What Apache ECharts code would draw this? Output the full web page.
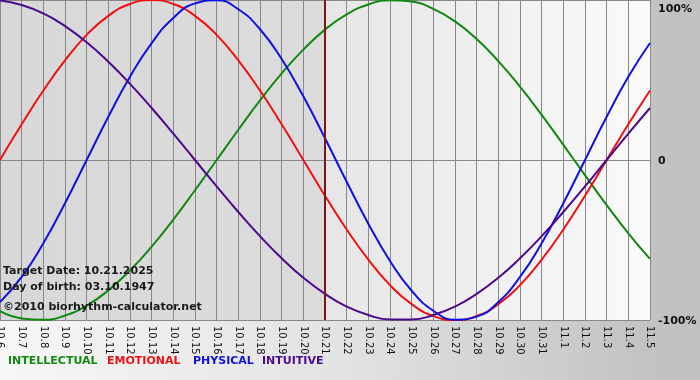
<!DOCTYPE html>
<html>
<head>
<meta charset="utf-8">
<script src="https://cdn.jsdelivr.net/npm/echarts@6/dist/echarts.min.js"></script>
<style>html,body{margin:0;padding:0;}#c{width:700px;height:380px;}</style>
</head>
<body>
<div id="c"></div>
<script>
var dates = ['10.6','10.7','10.8','10.9','10.10','10.11','10.12','10.13','10.14','10.15','10.16','10.17','10.18','10.19','10.20','10.21','10.22','10.23','10.24','10.25','10.26','10.27','10.28','10.29','10.30','10.31','11.1','11.2','11.3','11.4','11.5'];
var physical = [-0.888,-0.731,-0.520,-0.270,0,0.270,0.520,0.731,0.888,0.979,0.998,0.942,0.817,0.631,0.398,0.136,-0.136,-0.398,-0.631,-0.817,-0.942,-0.998,-0.979,-0.888,-0.731,-0.520,-0.270,0,0.270,0.520,0.731];
var emotional = [0,0.223,0.434,0.623,0.782,0.901,0.975,1,0.975,0.901,0.782,0.623,0.434,0.223,0,-0.223,-0.434,-0.623,-0.782,-0.901,-0.975,-1,-0.975,-0.901,-0.782,-0.623,-0.434,-0.223,0,0.223,0.434];
var intellectual = [-0.945,-0.990,-0.999,-0.972,-0.910,-0.815,-0.690,-0.541,-0.372,-0.189,0,0.189,0.372,0.541,0.690,0.815,0.910,0.972,0.999,0.990,0.945,0.866,0.756,0.618,0.458,0.282,0.095,-0.095,-0.282,-0.458,-0.618];
var intuitive = [0.997,0.969,0.916,0.837,0.736,0.614,0.476,0.325,0.165,0,-0.165,-0.325,-0.476,-0.614,-0.736,-0.837,-0.916,-0.969,-0.997,-0.997,-0.969,-0.916,-0.837,-0.736,-0.614,-0.476,-0.325,-0.165,0,0.165,0.325];
var yTicks = {'-1':'-100%','0':'0','1':'100%'};
var targetDate = '10.21';
var infoLines = ['Target Date: 10.21.2025','Day of birth: 03.10.1947','\u00a92010 biorhythm-calculator.net'];
var legendNames = ['INTELLECTUAL','EMOTIONAL','PHYSICAL','INTUITIVE'];

var colors = {green:'#118811', red:'#ee1111', blue:'#1111dd', purple:'#4b0a8c'};
var font = 'DejaVu Sans';
var chart = echarts.init(document.getElementById('c'));

function line(name, data, color, extra){
  var s = {name:name, type:'line', data:data, smooth:true, symbol:'none',
    lineStyle:{color:color, width:2}, itemStyle:{color:color}};
  if (extra) for (var k in extra) s[k] = extra[k];
  return s;
}

var legendX = [8, 107, 193, 262];
var legendColors = [colors.green, colors.red, colors.blue, colors.purple];
var graphics = [];
infoLines.forEach(function(t, i){
  graphics.push({type:'text', left:3, top:[266,282,302][i], z:100,
    style:{text:t, font:'bold 11px "' + font + '"', fill:'#1a1a1a'}});
});
legendNames.forEach(function(t, i){
  graphics.push({type:'text', left:legendX[i], top:356, z:100,
    style:{text:t, font:'bold 11px "' + font + '"', fill:legendColors[i]}});
});

chart.setOption({
  animation:false,
  backgroundColor: new echarts.graphic.LinearGradient(0,0,1,0,[
    {offset:0, color:'#f7f7f7'},{offset:0.5, color:'#e2e2e2'},{offset:0.92, color:'#c3c3c3'},{offset:1, color:'#c0c0c0'}]),
  grid:{left:0, right:50, top:0, bottom:60, show:true, borderWidth:0, outerBoundsMode:'none', containLabel:false,
    backgroundColor: new echarts.graphic.LinearGradient(0,0,1,0,[
      {offset:0, color:'#d8d8d8'},{offset:0.5, color:'#dcdcdc'},
      {offset:0.5, color:'#e6e6e6'},{offset:1, color:'#fafafa'}])},
  xAxis:{type:'category', data:dates, boundaryGap:false,
    axisLine:{show:true, lineStyle:{color:'#888888', width:1}},
    axisTick:{show:true, length:4, lineStyle:{color:'#888888'}},
    splitLine:{show:true, lineStyle:{color:'#888888', width:1}},
    axisLabel:{rotate:-90, fontSize:10, fontFamily:font, color:'#111', margin:6, interval:0}},
  yAxis:{type:'value', position:'right', min:-1, max:1, interval:1,
    axisLine:{show:false}, axisTick:{show:false},
    splitLine:{show:true, lineStyle:{color:'#888888', width:1}},
    axisLabel:{fontSize:11, fontWeight:'bold', fontFamily:font, color:'#111', margin:8,
      verticalAlign:'middle', padding:[3,0,0,0],
      rich:{top:{fontSize:11, fontWeight:'bold', fontFamily:font, color:'#111', padding:[15,0,0,0]}},
      formatter:function(v){ return v === 1 ? '{top|' + yTicks['1'] + '}' : yTicks[String(v)]; }}},
  graphic:graphics,
  series:[
    line('INTELLECTUAL', intellectual, colors.green),
    line('EMOTIONAL', emotional, colors.red, {markLine:{silent:true, symbol:'none', label:{show:false},
      lineStyle:{color:'#7a1818', width:2, type:'solid'}, data:[{xAxis:targetDate}]}}),
    line('PHYSICAL', physical, colors.blue),
    line('INTUITIVE', intuitive, colors.purple)
  ]
});
</script>
</body>
</html>
